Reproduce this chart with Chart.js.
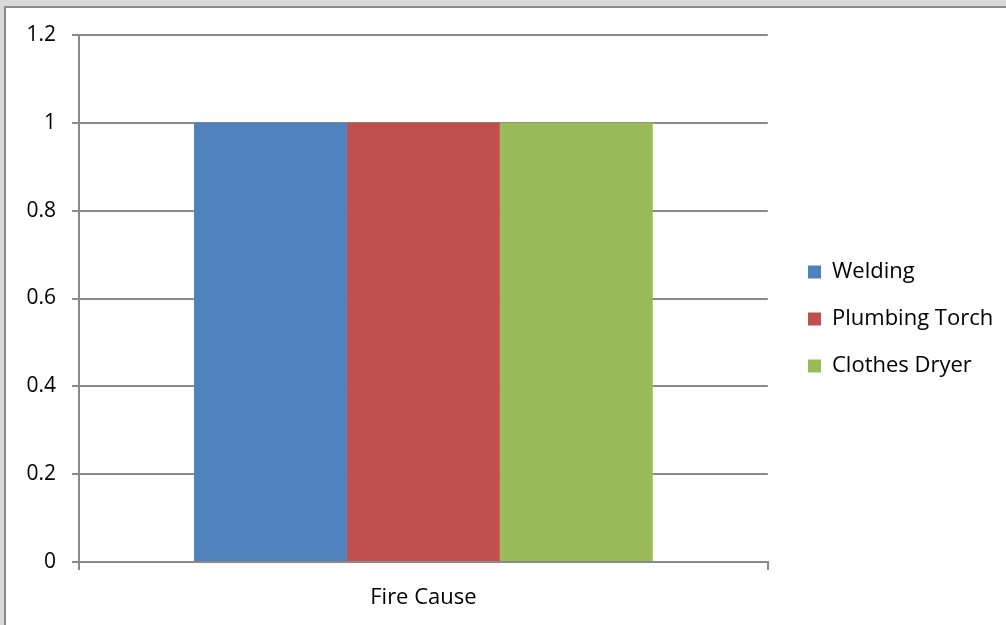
<!DOCTYPE html>
<html>
<head>
<meta charset="utf-8">
<script src="https://cdn.jsdelivr.net/npm/chart.js@4/dist/chart.umd.min.js"></script>
<style>
  html, body { margin: 0; padding: 0; width: 1006px; height: 625px; overflow: hidden; background: #d9d9d9; }
  #frame { position: absolute; left: 4px; top: 6px; width: 1002px; height: 619px; background: #fff;
           border-left: 2px solid #8a8a8a; border-top: 2px solid #8a8a8a; box-sizing: border-box; }
  #wrap { position: absolute; left: 0; top: 0; width: 1006px; height: 625px; }
</style>
</head>
<body>
<div id="frame"></div>
<div id="wrap"><canvas id="c" width="1006" height="625"></canvas></div>
<script>
const categories = ['Fire Cause'];
const seriesNames = ['Welding', 'Plumbing Torch', 'Clothes Dryer'];
const welding = [1];
const plumbingTorch = [1];
const clothesDryer = [1];
const yTicks = [0, 0.2, 0.4, 0.6, 0.8, 1, 1.2];
const colors = ['#4f81bd', '#c0504d', '#9bbb59'];

const FONT = "'Open Sans', 'DejaVu Sans', sans-serif";
const GRID = '#8a8a8a';

const legendShift = {
  id: 'legendShift',
  afterLayout(chart) {
    const lg = chart.legend;
    if (!lg) return;
    const dx = 783 - lg.left;
    lg.left += dx; lg.right += dx;
    const dy = -11;
    lg.top += dy; lg.bottom += dy;
  }
};

const chart = new Chart(document.getElementById('c'), {
  type: 'bar',
  data: {
    labels: categories,
    datasets: [
      { label: seriesNames[0], data: welding, backgroundColor: colors[0] },
      { label: seriesNames[1], data: plumbingTorch, backgroundColor: colors[1] },
      { label: seriesNames[2], data: clothesDryer, backgroundColor: colors[2] }
    ]
  },
  options: {
    responsive: false,
    animation: false,
    devicePixelRatio: 1,
    categoryPercentage: 0.666,
    barPercentage: 1,
    layout: { padding: { top: 35, left: 0, right: 18, bottom: 0 } },
    plugins: {
      tooltip: { enabled: false },
      legend: {
        position: 'right',
        labels: {
          boxWidth: 13, boxHeight: 13, padding: 25,
          color: '#000',
          font: { family: FONT, size: 22 }
        }
      }
    },
    scales: {
      x: {
        offset: true,
        grid: { offset: true, drawOnChartArea: false, drawTicks: true, tickLength: 8, color: GRID, lineWidth: 2 },
        border: { color: GRID, width: 2 },
        ticks: { color: '#000', padding: 15, font: { family: FONT, size: 22 } },
        afterFit(s) { s.height = 63; }
      },
      y: {
        min: 0, max: 1.2,
        afterBuildTicks(s) { s.ticks = yTicks.map(v => ({ value: v })); },
        grid: { color: GRID, lineWidth: 2, tickLength: 7 },
        border: { color: GRID, width: 2 },
        ticks: {
          color: '#000', padding: 16, font: { family: FONT, size: 21 },
          callback: v => String(parseFloat(Number(v).toFixed(2)))
        },
        afterFit(s) { s.width = 79; }
      }
    }
  },
  plugins: [legendShift]
});
</script>
</body>
</html>
